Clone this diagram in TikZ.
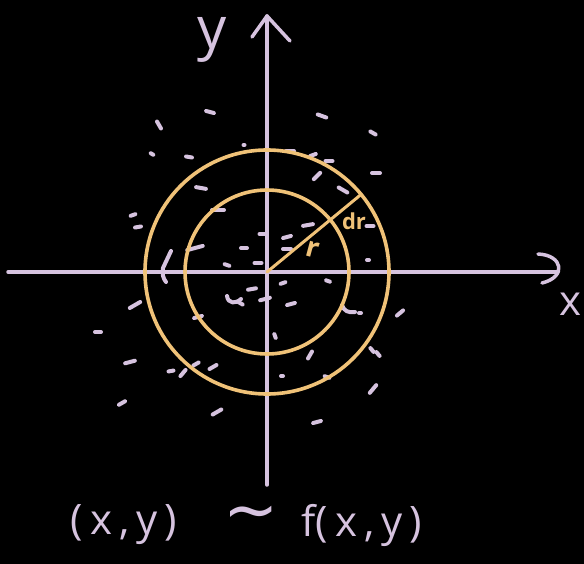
\documentclass[tikz,border=0pt]{standalone}
\usepackage{fontspec}
\setmainfont{Open Sans}
\newfontfamily\symfont{DejaVu Sans}
\definecolor{lav}{HTML}{D6C3DF}
\definecolor{gold}{HTML}{F0C278}
\begin{document}
\begin{tikzpicture}[x=1pt,y=-1pt, line cap=round, line join=round,
  ax/.style={draw=lav, line width=3.5pt},
  ring/.style={draw=gold, line width=3.6pt},
  speck/.style={draw=lav, line width=4pt, line cap=round},
  lbl/.style={text=lav, inner sep=0pt},
  glbl/.style={text=gold, inner sep=0pt},
]
\fill[black] (0,0) rectangle (584,564);
\useasboundingbox (0,0) rectangle (584,564);
% specks
\foreach \px/\py/\a/\l in {
 210/112/-15/8, 159/125/-60/8, 244/145/0/1, 152/154/-30/3, 189/157/-10/6,
 322/116/-20/9, 373/133/-30/6, 290/151/0/8, 313/155/20/6, 329/161/0/7,
 317/176/45/9, 376/173/0/8, 201/188/-10/10, 343/190/-30/10, 133/215/20/5,
 138/227/10/6, 218/210/0/12, 370/226/0/7, 308/225/10/10, 262/234/0/5,
 287/237/15/8, 195/248/15/16, 244/248/0/6, 287/249/0/8, 227/265/-20/5,
 258/263/0/7, 368/260/0/2, 283/283/20/5, 328/281/-20/4, 252/289/10/8,
 240/303/-30/6, 265/299/15/10, 291/304/15/8, 135/305/30/12, 198/317/15/8,
 360/313/0/2, 400/313/40/8, 98/332/0/6, 275/336/-70/4, 310/355/60/8,
 372/350/-50/5, 378/354/-50/5, 130/362/15/10, 171/371/10/5, 183/373/50/8,
 196/364/30/6, 213/367/30/8, 282/376/0/2, 327/377/-20/5, 373/389/50/10,
 122/403/30/7, 217/412/30/10, 317/422/15/8}
 { \draw[speck] (\px,\py) ++({-\a}:{-\l/2}) -- ++({-\a}:\l); }
\draw[speck] (171,251) -- (163,268) .. controls (162,274) and (163,278) .. (166,282);
\draw[speck] (227,296) .. controls (228,304) and (236,304) .. (241,299);
\draw[speck] (342,305) .. controls (344,311) and (348,313) .. (355,312);
% axes
\coordinate (o) at (267,272);
\coordinate (xl) at (8,272);
\coordinate (xr) at (557,272);
\coordinate (yt) at (267,16);
\coordinate (yb) at (267,485);
\coordinate (ya) at (252,37);
\coordinate (yc) at (290,41);
\coordinate (xa) at (538,254);
\coordinate (xc) at (542,283);
\draw[ax] (xl) -- (xr);
\draw[ax] (yb) -- (yt);
\draw[ax] (ya) -- (yt) -- (yc);
\draw[ax] (xa) .. controls (563,255) and (567,277) .. (xc);
% rings
\draw[ring] (o) circle[radius=82pt];
\draw[ring] (o) circle[radius=122pt];
\path (o) ++(-39.5:82) coordinate (ri);
\path (o) ++(-39.5:122) coordinate (ro);
\draw[ring, line width=3pt] (o) -- (ri) -- (ro);
\node[glbl, rotate=-15, font=\fontsize{28}{28}\selectfont\bfseries] (rl) at (313,250) {r};
\node[glbl, font=\fontsize{22}{22}\selectfont\bfseries] (drl) at (354,221) {dr};
% labels
\node[lbl, font=\fontsize{58}{58}\selectfont] (ylab) at (212,40) {y};
\node[lbl, font=\fontsize{42}{42}\selectfont] (xlab) at (570,304) {x};
\node[lbl, font=\fontsize{42}{42}\selectfont] (f1) at (124,525) {(\,x\,,\,y\,)};
\node[lbl, font=\symfont\fontsize{66}{66}\selectfont] (f2) at (251,519) {∼};
\node[lbl, font=\fontsize{42}{42}\selectfont] (f3) at (362,525) {f(\,x\,,\,y\,)};
\end{tikzpicture}
\end{document}
